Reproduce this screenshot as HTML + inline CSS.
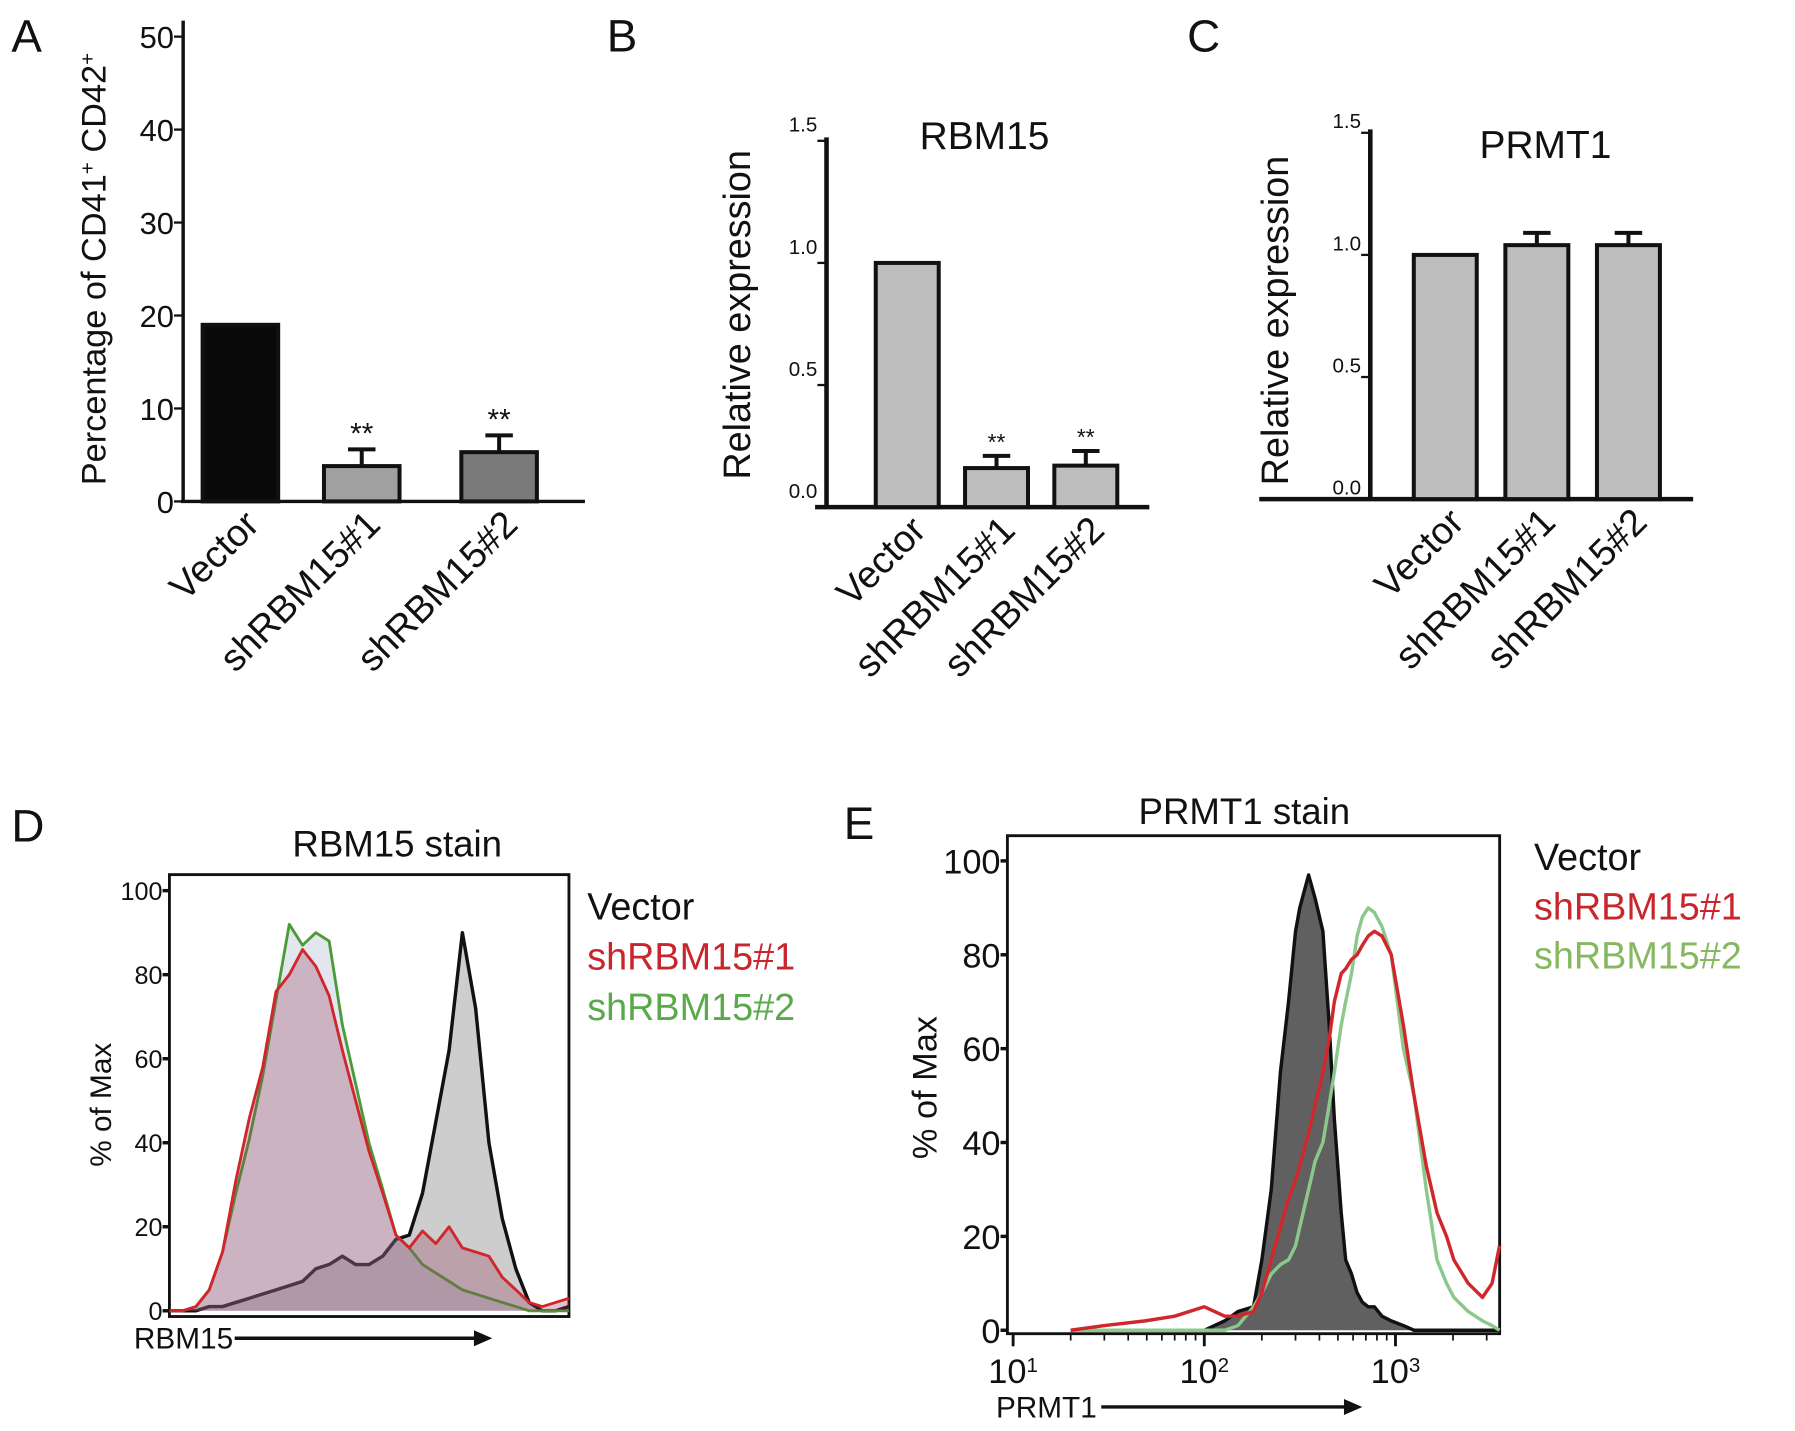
<!DOCTYPE html>
<html><head><meta charset="utf-8"><style>
html,body{margin:0;padding:0;background:#fff}
svg{display:block}
text{font-family:"Liberation Sans",sans-serif;fill:#111}
</style></head><body>
<svg id="fig" width="1795" height="1431" viewBox="0 0 1568 1250" preserveAspectRatio="none" xmlns="http://www.w3.org/2000/svg">
<g font-size="40">
<text x="10" y="45">A</text>
<text x="530" y="45">B</text>
<text x="1037" y="45">C</text>
<text x="10" y="735">D</text>
<text x="737" y="733">E</text>
</g>
<g id="pA"></g>
<g id="pB"></g>
<g id="pC"></g>
<g id="pD"></g>
<g id="pE"></g>
</svg>
<script>
const categories = ["Vector","shRBM15#1","shRBM15#2"];
const aValues = [19, 3.8, 5.3];
const aErr = [0, 1.8, 1.8];
const aTicks = [0,10,20,30,40,50];
const bValues = [1.0, 0.16, 0.17];
const bErr = [0, 0.05, 0.06];
const cValues = [1.0, 1.04, 1.04];
const cErr = [0, 0.05, 0.05];
const bcTicks = ["0.0","0.5","1.0","1.5"];
const dChannels = [0,34,68,102,136,170,205,239,273,307,341,375,409,443,477,511,546,580,614,648,682,716,750,784,818,852,887,921,955,989,1023];
const dVector = [0,0,0,1,1,2,3,4,5,6,7,10,11,13,11,11,13,17,18,28,45,62,90,72,40,22,10,2,0,0,1];
const dSh1 = [0,0,1,5,14,31,46,58,76,80,86,82,75,62,50,38,28,18,15,19,16,20,15,14,13,8,5,2,1,2,3];
const dSh2 = [0,0,1,5,14,28,41,56,74,92,87,90,88,68,54,40,29,18,15,11,9,7,5,4,3,2,1,0,0,0,0];
const eTicks = [0,20,40,60,80,100];
const eX = [20,30,49,70,100,128,150,181,200,224,250,276,300,316,351,380,417,450,479,520,549,589,630,670,720,776,850,950,1100,1250,1450,1650,1850,2020,2400,2850,3200,3500];
const eVector = [0,0,0,0,0,2,4,5,15,30,55,70,85,90,97,92,85,65,45,25,15,12,8,6,5,5,3,2,1,0,0,0,0,0,0,0,0,0];
const eSh1 = [0,1,2,3,5,3,3,4,8,15,22,28,32,35,42,48,55,62,70,76,77,79,80,82,84,85,84,80,65,50,35,25,20,15,10,7,10,18];
const eSh2 = [0,0,0,0,0,0,1,5,8,12,14,15,18,22,30,36,40,48,55,65,70,76,84,88,90,89,86,80,60,50,30,15,10,7,4,2,1,0];

const NS="http://www.w3.org/2000/svg";
function mk(parent,tag,attrs,txt){const e=document.createElementNS(NS,tag);for(const k in attrs)e.setAttribute(k,attrs[k]);if(txt!==undefined)e.textContent=txt;parent.appendChild(e);return e;}

function barPanel(id, cfg){
  const g=document.getElementById(id);
  const y=v=>cfg.y0-(v-cfg.vmin)/(cfg.vmax-cfg.vmin)*(cfg.y0-cfg.y1);
  let ax=mk(g,'line',{x1:cfg.ax,y1:cfg.yTop,x2:cfg.ax,y2:cfg.y0+1,stroke:'#111','stroke-width':cfg.aw});
   
  let xa=mk(g,'line',{x1:cfg.xs,y1:cfg.y0,x2:cfg.xe,y2:cfg.y0,stroke:'#111','stroke-width':cfg.aw});
   
  cfg.ticks.forEach(t=>{const v=parseFloat(t);const yy=y(v);
    mk(g,'line',{x1:cfg.ax-8,y1:yy,x2:cfg.ax,y2:yy,stroke:'#111','stroke-width':2});
    const tl=mk(g,'text',{x:cfg.ax-8,y:yy+cfg.tOff,'text-anchor':'end','font-size':cfg.tfs},t);
     
  });
  cfg.values.forEach((v,i)=>{
    const x=cfg.bx[i];
    const r=mk(g,'rect',{x:x,y:y(v),width:cfg.bw,height:cfg.y0-y(v),fill:cfg.fills[i],stroke:'#111','stroke-width':3.5});
    
    
    if(cfg.err[i]>0){const cx=x+cfg.bw/2, te=y(v+cfg.err[i]);
      mk(g,'line',{x1:cx,y1:y(v),x2:cx,y2:te,stroke:'#111','stroke-width':3.5});
      mk(g,'line',{x1:cx-12,y1:te,x2:cx+12,y2:te,stroke:'#111','stroke-width':3.5});
      if(cfg.stars){const s=mk(g,'text',{x:cx,y:te-5,'text-anchor':'middle','font-size':cfg.sfs},'**');
         }
    }
    const lx=x+cfg.bw/2+cfg.lOff, ly=cfg.y0+cfg.lTop;
    const lt=mk(g,'text',{x:lx,y:ly,'text-anchor':'end','font-size':33,transform:`rotate(-45 ${lx} ${ly})`},categories[i]);
     
  });
  const yl=mk(g,'text',{x:cfg.ylx,y:cfg.yly,'text-anchor':'middle','font-size':cfg.ylfs,transform:`rotate(-90 ${cfg.ylx} ${cfg.yly})`});
   
  yl.innerHTML=cfg.ylabel;
  if(cfg.title){const t=mk(g,'text',{x:cfg.tx,y:cfg.ty,'text-anchor':'middle','font-size':34},cfg.title);
     }
}
barPanel('pA',{vmin:0,vmax:50,y0:438,y1:32,yTop:18,ax:160,xs:158,xe:511,aw:3,ticks:aTicks.map(String),tOff:10,tfs:27,
  values:aValues,err:aErr,bx:[177,283,403],bw:66,fills:['#0a0a0a','#a0a0a0','#7a7a7a'],stars:true,sfs:26,lOff:18,lTop:22,
  ylx:92,yly:235,ylfs:30,ylabel:'Percentage of  CD41<tspan baseline-shift="super" font-size="18">+</tspan> CD42<tspan baseline-shift="super" font-size="18">+</tspan>'});
barPanel('pB',{vmin:0,vmax:1.5,y0:443,y1:123,yTop:120,ax:722,xs:712,xe:1004,aw:4,ticks:bcTicks,tOff:-8,tfs:18,
  values:bValues,err:bErr,bx:[765,843,921],bw:55,fills:['#bdbdbd','#bdbdbd','#bdbdbd'],stars:true,sfs:20,lOff:18,lTop:22,
  ylx:655,yly:275,ylfs:33,ylabel:'Relative expression',title:'RBM15',tx:860,ty:130});
barPanel('pC',{vmin:0,vmax:1.5,y0:436,y1:116,yTop:113,ax:1197,xs:1100,xe:1479,aw:4,ticks:bcTicks,tOff:-4,tfs:18,
  values:cValues,err:cErr,bx:[1235,1315,1395],bw:55,fills:['#bdbdbd','#bdbdbd','#bdbdbd'],stars:false,lOff:18,lTop:22,
  ylx:1125,yly:280,ylfs:33,ylabel:'Relative expression',title:'PRMT1',tx:1350,ty:138});

function histPanel(id,cfg){
  const g=document.getElementById(id);
  const y=v=>cfg.y0-v/100*(cfg.y0-cfg.y100);
  const fr=mk(g,'rect',{x:cfg.x0,y:cfg.top,width:cfg.x1-cfg.x0,height:cfg.bot-cfg.top,fill:'none',stroke:'#111','stroke-width':2.5});
   
  cfg.ticks.forEach(t=>{const yy=y(t);
    mk(g,'line',{x1:cfg.x0-6,y1:yy,x2:cfg.x0,y2:yy,stroke:'#111','stroke-width':3});
    const tl=mk(g,'text',{x:cfg.x0-6,y:yy+cfg.tOff,'text-anchor':'end','font-size':cfg.tfs},t);
     });
  cfg.series.forEach(s=>{
    const pts=s.v.map((v,i)=>[cfg.xs(cfg.xv[i]),y(v)]);
    const d='M'+pts.map(p=>p[0].toFixed(1)+','+p[1].toFixed(1)).join('L');
    if(s.fill){const a=mk(g,'path',{d:d+`L${pts[pts.length-1][0]},${cfg.y0}L${pts[0][0]},${cfg.y0}Z`,fill:s.fill,stroke:'none'});
       }
    const l=mk(g,'path',{d:d,fill:'none',stroke:s.c,'stroke-width':s.w,'stroke-linejoin':'round'});
     
  });
  const tt=mk(g,'text',{x:cfg.tx,y:cfg.ty,'text-anchor':'middle','font-size':32},cfg.title);
   
  const yl=mk(g,'text',{x:cfg.ylx,y:cfg.yly,'text-anchor':'middle','font-size':cfg.ylfs,transform:`rotate(-90 ${cfg.ylx} ${cfg.yly})`},'% of Max');
   
  const xl=mk(g,'text',{x:cfg.xlx,y:cfg.xly,'font-size':26},cfg.xlabel);
   
  mk(g,'line',{x1:cfg.arx0,y1:cfg.xly-9,x2:cfg.arx1-10,y2:cfg.xly-9,stroke:'#111','stroke-width':3});
  mk(g,'polygon',{points:`${cfg.arx1},${cfg.xly-9} ${cfg.arx1-16},${cfg.xly-16} ${cfg.arx1-16},${cfg.xly-2}`,fill:'#111'});
  const cols=['#111','#c8262c',cfg.green];
  categories.forEach((c,i)=>{const t=mk(g,'text',{x:cfg.lx,y:cfg.ly+i*cfg.lsp,'font-size':33,style:'fill:'+cols[i]},c);
     });
}
histPanel('pD',{x0:148,x1:497,top:764,bot:1150,y0:1145,y100:778,ticks:[0,20,40,60,80,100],tOff:8,tfs:22,
  xv:dChannels,xs:v=>148+v/1023*349,
  series:[{name:'vector',v:dVector,c:'#111',w:3,fill:'rgba(90,90,90,0.3)'},
          {name:'shrbm15-2',v:dSh2,c:'#4c9a3a',w:2.5,fill:'rgba(140,160,190,0.25)'},
          {name:'shrbm15-1',v:dSh1,c:'#d0262c',w:2.5,fill:'rgba(150,60,90,0.3)'}],
  title:'RBM15  stain',tx:347,ty:748,ylx:97,yly:965,ylfs:26,xlabel:'RBM15',xlx:117,xly:1178,arx0:205,arx1:430,
  lx:513,ly:803,lsp:44,green:'#5aa94a'});
histPanel('pE',{x0:880,x1:1310,top:730,bot:1165,y0:1162,y100:752,ticks:eTicks,tOff:11,tfs:30,
  xv:eX,xs:v=>885+(Math.log10(v)-1)*167,
  series:[{name:'vector',v:eVector,c:'#111',w:3,fill:'#606060'},
          {name:'shrbm15-2',v:eSh2,c:'#8cc88c',w:3},
          {name:'shrbm15-1',v:eSh1,c:'#d0262c',w:3}],
  title:'PRMT1  stain',tx:1087,ty:720,ylx:818,yly:950,ylfs:30,xlabel:'PRMT1',xlx:870,xly:1238,arx0:962,arx1:1190,
  lx:1340,ly:760,lsp:43,green:'#86b862'});
const gE=document.getElementById('pE');
const eDecades=[1,2,3];
eDecades.forEach(d=>{const x=885+(d-1)*167;
  mk(gE,'line',{x1:x,y1:1165,x2:x,y2:1176,stroke:'#111','stroke-width':2.5});
  for(let k=2;k<10;k++){const xm=x+Math.log10(k)*167; if(xm<1310) mk(gE,'line',{x1:xm,y1:1165,x2:xm,y2:1171,stroke:'#111','stroke-width':1.5});}
  const t=mk(gE,'text',{x:x,y:1208,'text-anchor':'middle','font-size':30});
   
  t.innerHTML='10<tspan baseline-shift="super" font-size="18">'+d+'</tspan>';
});
</script>
</body></html>
